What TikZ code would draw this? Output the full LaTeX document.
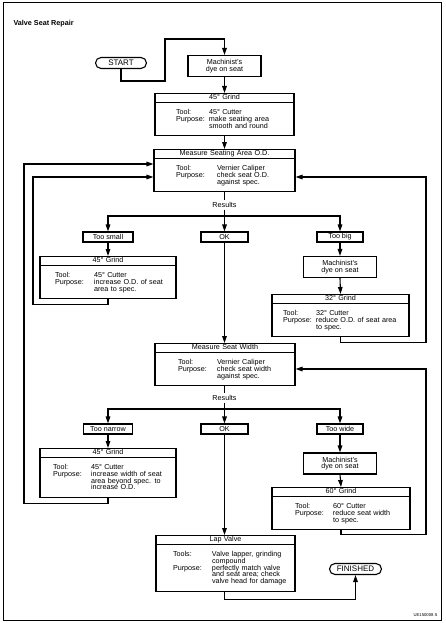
\documentclass[tikz,border=0pt]{standalone}
\usepackage{fontspec}
\setmainfont{Liberation Sans}
\usetikzlibrary{arrows.meta,shapes.multipart,shapes.misc}

\newcommand{\bodyfont}{\fontsize{7.2}{6.7}\selectfont\lineskiplimit=-10pt\relax}
\newcommand{\padtitle}{\rule[-3pt]{0pt}{8pt}}
\newcommand{\padtop}{\rule{0pt}{11pt}}
\newcommand{\padbot}{\rule[-7pt]{0pt}{7pt}}
% body of a grind box: left offset, label width, rows
\newcommand{\bodyrows}[3]{\noindent\makebox[\hsize][l]{\hspace{#1pt}\vbox{\def\lw{#2}%
  \baselineskip=6.8pt\lineskiplimit=-10pt\relax #3}}}
\newcommand{\brow}[2]{\hbox{\makebox[\lw pt][l]{#1}#2}}

\tikzset{
  grindbox/.style={draw, rectangle split, rectangle split parts=2, text width=#1,
    inner xsep=0pt, inner ysep=0pt, align=center, font=\bodyfont},
  smallbox/.style={draw, minimum width=#1, minimum height=10pt, inner sep=0.5pt, font=\bodyfont},
  dyebox/.style={draw, minimum width=73pt, minimum height=21pt, inner sep=0.5pt, align=center, font=\bodyfont},
  termbox/.style={draw, rounded rectangle, minimum width=#1, minimum height=11pt, inner sep=0.5pt,
    font=\fontsize{8}{8}\selectfont},
  arr/.style={-{Triangle[length=7pt,width=4.6pt]}},
}

\begin{document}
\begin{tikzpicture}[x=1pt, y=-1pt, line width=1.1pt]
\useasboundingbox (0,0) rectangle (445,623);
\draw[line width=0.9pt] (3,2.5) rectangle (441,620); % frame
\node[anchor=west, inner sep=0pt, font=\fontsize{7.2}{8}\selectfont\bfseries] (title) at (13,24) {Valve Seat Repair};

% start and first grind
\node[termbox=52pt] (start) at (121,63) {START};
\node[dyebox] (dyeA) at (224.5,66) {Machinist's\\dye on seat};
\node[grindbox=139pt, anchor=north] (grindA) at (224.5,93) {\padtitle 45° Grind
  \nodepart{two}\bodyrows{21}{33}{
    \brow{Tool:}{\padtop 45° Cutter}
    \brow{Purpose:}{make seating area}
    \brow{}{smooth and round\padbot}}};
\draw[arr] (start.south) -- ++(0,12) -| ++(44,-42) -| (dyeA.north);
\draw[arr] (dyeA.south) -- (grindA.north);

% measure O.D.
\node[grindbox=141pt, anchor=north] (measOD) at (224.5,149) {\padtitle Measure Seating Area O.D.
  \nodepart{two}\bodyrows{22}{41}{
    \brow{Tool:}{\padtop Vernier Caliper}
    \brow{Purpose:}{check seat O.D.}
    \brow{}{against spec.\padbot}}};
\draw[arr] (grindA.south) -- (measOD.north);
\node[font=\bodyfont, inner sep=1.5pt] (resA) at (224.5,205) {Results};
\coordinate (brA) at (224.5,216);
\draw (measOD.south) -- (resA.north);
\draw (resA.south) -- (brA);

\node[smallbox=50pt] (smallA) at (108,237) {Too small};
\node[smallbox=47pt] (okA) at (224.5,237) {OK};
\node[smallbox=46pt] (bigA) at (340,237) {Too big};
\draw[arr] (brA) -| (smallA.north);
\draw[arr] (brA) -| (bigA.north);
\draw[arr] (brA) -- (okA.north);

\node[grindbox=136pt, anchor=north] (grindB) at (108,256) {\padtitle 45° Grind
  \nodepart{two}\bodyrows{15}{39}{
    \brow{Tool:}{\padtop 45° Cutter}
    \brow{Purpose:}{increase O.D. of seat}
    \brow{}{area to spec.\padbot}}};
\node[dyebox] (dyeB) at (340,267) {Machinist's\\dye on seat};
\node[grindbox=137pt, anchor=north] (grindC) at (340.5,294) {\padtitle 32° Grind
  \nodepart{two}\bodyrows{11}{33}{
    \brow{Tool:}{\padtop 32° Cutter}
    \brow{Purpose:}{reduce O.D. of seat area}
    \brow{}{to spec.\padbot}}};
\draw[arr] (smallA.south) -- (grindB.north);
\draw[arr] (bigA.south) -- (dyeB.north);
\draw[arr] (dyeB.south) -- (grindC.north);

% loops back to measure O.D.
\coordinate (loopA) at (33,177);
\coordinate (loopB) at (426,177);
\draw[arr] (grindB.south) -- ++(0,5) -| (loopA) -- (loopA -| measOD.west);
\draw[arr] (grindC.south) -- ++(0,5) -| (loopB) -- (loopB -| measOD.east);

% measure seat width
\node[grindbox=140pt, anchor=north] (measW) at (225,343) {\padtitle Measure Seat Width
  \nodepart{two}\bodyrows{23}{39}{
    \brow{Tool:}{\padtop Vernier Caliper}
    \brow{Purpose:}{check seat width}
    \brow{}{against spec.\padbot}}};
\draw[arr] (okA.south) -- (measW.north -| okA);
\node[font=\bodyfont, inner sep=1.5pt] (resB) at (224.5,398) {Results};
\coordinate (brB) at (224.5,409);
\draw (measW.south -| resB) -- (resB.north);
\draw (resB.south) -- (brB);

\node[smallbox=49pt] (narrowB) at (108,429) {Too narrow};
\node[smallbox=47pt] (okB) at (224.5,429) {OK};
\node[smallbox=46pt] (wideB) at (340,429) {Too wide};
\draw[arr] (brB) -| (narrowB.north);
\draw[arr] (brB) -| (wideB.north);
\draw[arr] (brB) -- (okB.north);

\node[grindbox=136pt, anchor=north] (grindD) at (108,448) {\padtitle 45° Grind
  \nodepart{two}\bodyrows{13}{38}{
    \brow{Tool:}{\padtop 45° Cutter}
    \brow{Purpose:}{increase width of seat}
    \brow{}{area beyond spec. to}
    \brow{}{increase O.D.\padbot}}};
\node[dyebox] (dyeC) at (340,463.5) {Machinist's\\dye on seat};
\node[grindbox=138pt, anchor=north] (grindE) at (341,487) {\padtitle 60° Grind
  \nodepart{two}\bodyrows{23}{38}{
    \brow{Tool:}{\padtop 60° Cutter}
    \brow{Purpose:}{reduce seat width}
    \brow{}{to spec.\padbot}}};
\draw[arr] (narrowB.south) -- (grindD.north);
\draw[arr] (wideB.south) -- (dyeC.north);
\draw[arr] (dyeC.south) -- (grindE.north);

% loops back
\coordinate (loopC) at (24,164);
\coordinate (loopD) at (426,369);
\draw[arr] (grindD.south) -- ++(0,6) -| (loopC) -- (loopC -| measOD.west);
\draw[arr] (grindE.south) -- ++(0,4) -| (loopD) -- (loopD -| measW.east);

% lap and finish
\node[grindbox=139pt, anchor=north] (lap) at (225.5,535) {\padtitle Lap Valve
  \nodepart{two}\bodyrows{17}{39}{
    \brow{Tools:}{\padtop Valve lapper, grinding}
    \brow{}{compound}
    \brow{Purpose:}{perfectly match valve}
    \brow{}{and seat area; check}
    \brow{}{valve head for damage\padbot}}};
\node[termbox=53pt] (finished) at (355.5,569) {FINISHED};
\draw[arr] (okB.south) -- (lap.north -| okB);
\draw[arr] (lap.south -| okB) -- ++(0,8) -| (finished.south);

\node[anchor=east, inner sep=0pt, font=\fontsize{4.2}{5}\selectfont] (code) at (438,615) {UE150008 S};
\end{tikzpicture}
\end{document}
